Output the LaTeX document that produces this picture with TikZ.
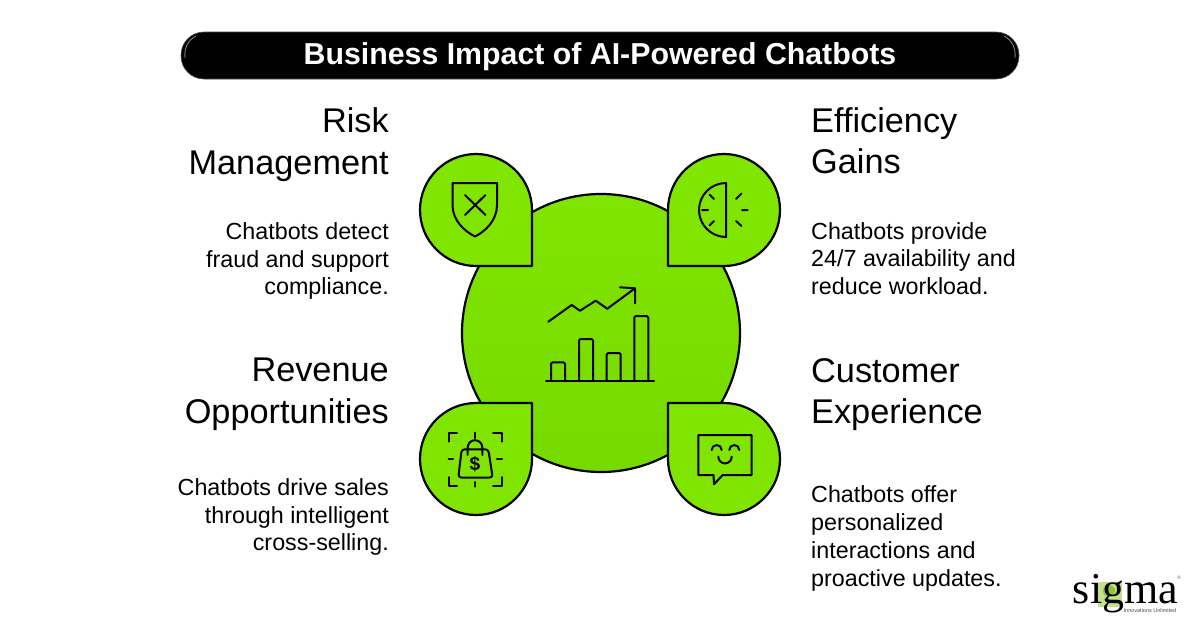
\documentclass[tikz,border=0pt]{standalone}
\usepackage{fontspec}
\setmainfont{Liberation Sans}
\newfontfamily\logofont{Liberation Serif}
\definecolor{chatgreen}{HTML}{80E500}
\definecolor{chatdark}{HTML}{76DA00}
\definecolor{logogreen}{HTML}{8CC63F}
\definecolor{logolight}{HTML}{C4E08C}
\tikzset{
	head text/.style={inner sep=0pt,font=\fontsize{34.3}{41.5}\selectfont},
	body text/.style={inner sep=0pt,font=\fontsize{23.3}{27.7}\selectfont},
	drop line/.style={draw=black,line width=2.2pt,fill=chatgreen,line join=round},
	icon line/.style={draw=black,line width=2pt,line cap=round,line join=round}
}
\begin{document}
\begin{tikzpicture}[x=1pt,y=-1pt]
\useasboundingbox(0,0)rectangle(1200,627);
% Barra titolo
\draw[fill=black,draw=black!70,line width=0.6pt,rounded corners=23pt](181,32)rectangle(1019,79);
\draw[black!45,line width=0.8pt](196,36)..controls(188,40)and(184,48)..(185,58);
\draw[black!45,line width=0.8pt](1004,36)..controls(1012,40)and(1016,48)..(1015,58);
\draw(600,57)node[inner sep=0pt,text=white,font=\fontsize{30.3}{36}\selectfont\bfseries](node title){Business Impact of AI-Powered Chatbots};

% Cerchio centrale
\draw[draw=black,line width=2.2pt,top color=chatgreen,bottom color=chatdark](601,333)circle[radius=139];

% Gocce
\draw[drop line](532,266)--(476,266)arc[start angle=90,end angle=360,radius=56]--cycle;
\draw[drop line](668,266)--(668,210)arc[start angle=180,end angle=450,radius=56]--cycle;
\draw[drop line](532,403)--(532,459)arc[start angle=0,end angle=270,radius=56]--cycle;
\draw[drop line](668,403)--(724,403)arc[start angle=270,end angle=540,radius=56]--cycle;

% Testi a sinistra
\draw(389,144.5)node[head text,anchor=east,align=right](node risk){Risk\\Management}
		 (389,261)node[body text,anchor=east,align=right](node risk text){Chatbots detect\\fraud and support\\compliance.}
		 (389,394.5)node[head text,anchor=east,align=right](node revenue){Revenue\\Opportunities}
		 (389,517)node[body text,anchor=east,align=right](node revenue text){Chatbots drive sales\\through intelligent\\cross-selling.};
% Testi a destra
\draw(811,140.5)node[head text,anchor=west,align=left](node efficiency){Efficiency\\Gains}
		 (811,258.5)node[body text,anchor=west,align=left](node efficiency text){Chatbots provide\\24/7 availability and\\reduce workload.}
		 (811,394.5)node[head text,anchor=west,align=left](node customer){Customer\\Experience}
		 (811,538.5)node[body text,anchor=west,align=left](node customer text){Chatbots offer\\personalized\\interactions and\\proactive updates.};

% Scudo
\draw[icon line](452.5,183)--(497,183)--(497,205)..controls(497,220)and(486,231)..(475,236.5)..controls(464,231)and(452.5,220)..(452.5,205)--cycle;
\draw[icon line](465,195)--(485.5,215)(485.5,195)--(465,215);

% Mezzo quadrante
\draw[icon line](726,183)arc[start angle=270,end angle=90,radius=27]--cycle;
\draw[icon line](702,210)--(708,210)(709.5,194.5)--(714,199)(709.5,225.5)--(714,221);
\draw[icon line](742,210)--(747.5,210)(736,199)--(741.5,193.5)(736,221)--(741.5,226);

% Grafico centrale
\draw[icon line](546,380.7)--(654,380.7);
\draw[icon line,rounded corners=1.5pt](551,380.7)--(551,362.3)--(565,362.3)--(565,380.7);
\draw[icon line,rounded corners=1.5pt](579,380.7)--(579,339)--(593,339)--(593,380.7);
\draw[icon line,rounded corners=1.5pt](606.7,380.7)--(606.7,353)--(620.7,353)--(620.7,380.7);
\draw[icon line,rounded corners=1.5pt](634.3,380.7)--(634.3,316)--(648.3,316)--(648.3,380.7);
\draw[icon line](548.3,321.7)--(571.7,305)--(580,310.7)--(595.7,300.7)--(607.3,308.7)--(635,288.3);
\draw[icon line](620,287.3)--(635,288.3)--(635,303.3);

% Borsa
\draw[icon line](448.5,441.5)--(448.5,433)--(457,433)(493,433)--(502,433)--(502,441.5);
\draw[icon line](448.5,477)--(448.5,486)--(457,486)(493,486)--(502,486)--(502,477);
\draw[icon line](475,432.7)--(475,438)(475,482)--(475,486.7)(448.5,459.3)--(453,459.3)(497,459.3)--(502,459.3);
\draw[icon line,rounded corners=3pt](461.7,449.3)--(488.3,449.3)--(492.7,477.5)--(458.3,477.5)--cycle;
\draw[icon line](467.7,455)--(467.7,447.5)arc[start angle=180,end angle=360,radius=7.3]--(482.3,455);
\draw(475,464)node[inner sep=0pt,font=\fontsize{19}{19}\selectfont\bfseries](node dollar){\$};

% Fumetto
\draw[icon line](698.3,435)--(751.7,435)--(751.7,475)--(722.7,475)--(714,484.3)--(713.5,475)--(698.3,475)--cycle;
\draw[icon line](711.7,450)arc[start angle=180,end angle=360,radius=5];
\draw[icon line](729.3,450)arc[start angle=180,end angle=360,radius=5];
\draw[icon line](718.3,456.7)arc[start angle=180,end angle=0,radius=6.7];

% Logo
\fill[logolight](1098,582)rectangle(1122,607);
\fill[logogreen](1109,591)circle[radius=6];
\draw(1125.5,603)node[anchor=base,inner sep=0pt,font=\fontsize{44}{44}\logofont](node logo){\smash{sigma}};
\draw(1150,611)node[inner sep=0pt,text=black!70,font=\fontsize{5.5}{6}\selectfont](node motto){Innovations Unlimited};
\draw(1179,578)node[inner sep=0pt,text=black!60,font=\fontsize{5}{5}\selectfont](node mark){®};
\end{tikzpicture}
\end{document}
